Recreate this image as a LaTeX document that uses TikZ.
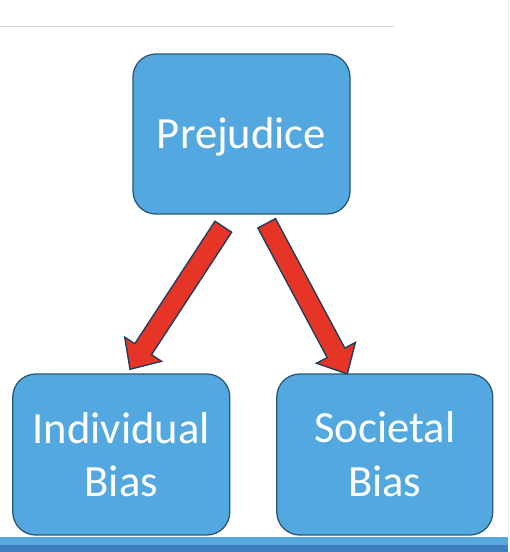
\documentclass[tikz,border=0pt]{standalone}
\usepackage{fontspec}
\setmainfont{Carlito}
\usetikzlibrary{calc}
\definecolor{boxfill}{HTML}{53A9DF}
\definecolor{boxline}{HTML}{2B5878}
\definecolor{arrowred}{HTML}{E63526}
\definecolor{arrowline}{HTML}{1F3F5C}
\definecolor{barlight}{HTML}{55A9DF}
\definecolor{bardark}{HTML}{3F7EC0}
\tikzset{
  box/.style={draw=boxline, line width=1.3pt, fill=boxfill, rounded corners=23pt, inner sep=0pt},
  lbl/.style={text=white, font=\fontsize{44.6}{54}\selectfont, anchor=base, inner sep=0pt},
  fatarrow/.style={draw=arrowline, line width=1.4pt, fill=arrowred, line join=miter}
}
\newcommand\fatarr[2]{%
  \coordinate (#1hb) at ($(#2)!24pt!(#1)$);
  \draw[fatarrow] ($(#1)!10pt!90:(#2)$) -- ($(#1hb)!10pt!-90:(#1)$) -- ($(#1hb)!22pt!-90:(#1)$) -- (#2)
    -- ($(#1hb)!22pt!90:(#1)$) -- ($(#1hb)!10pt!90:(#1)$) -- ($(#1)!10pt!-90:(#2)$) -- cycle;}
\begin{document}
\begin{tikzpicture}[x=1pt,y=-1pt]
\useasboundingbox[fill=white] (0,0) rectangle (510,552);
% top rule and right edge
\draw[line width=1.5pt, color=black!15] (0,26.5) -- (394,26.5);
\draw[line width=0.8pt, color=black!8] (508.5,0) -- (508.5,537);
% boxes
\node[box, minimum width=217pt, minimum height=160pt] (P) at (241.5,134) {};
\node[box, minimum width=217pt, minimum height=161pt] (I) at (121.3,454.5) {};
\node[box, minimum width=216pt, minimum height=161pt] (S) at (384.8,454.5) {};
% labels
\node[lbl] (Pt) at ($(P.center)+(0,14)$) {Prejudice};
\node[lbl] (It1) at ($(I.center)+(0,-11.5)$) {Individual};
\node[lbl] (It2) at ($(I.center)+(0,42.2)$) {Bias};
\node[lbl] (St1) at ($(S.center)+(0,-11.8)$) {Societal};
\node[lbl] (St2) at ($(S.center)+(0,42.2)$) {Bias};
% arrows
\coordinate (lt) at (223.3,226.7);
\coordinate (lh) at (130,369.3);
\coordinate (rt) at (266.7,223.3);
\coordinate (rh) at (347.3,374);
\fatarr{lt}{lh}
\fatarr{rt}{rh}
% bottom bar
\fill[barlight] (0,537.3) rectangle (508,545);
\fill[bardark] (0,545) rectangle (508,552);
\end{tikzpicture}
\end{document}
